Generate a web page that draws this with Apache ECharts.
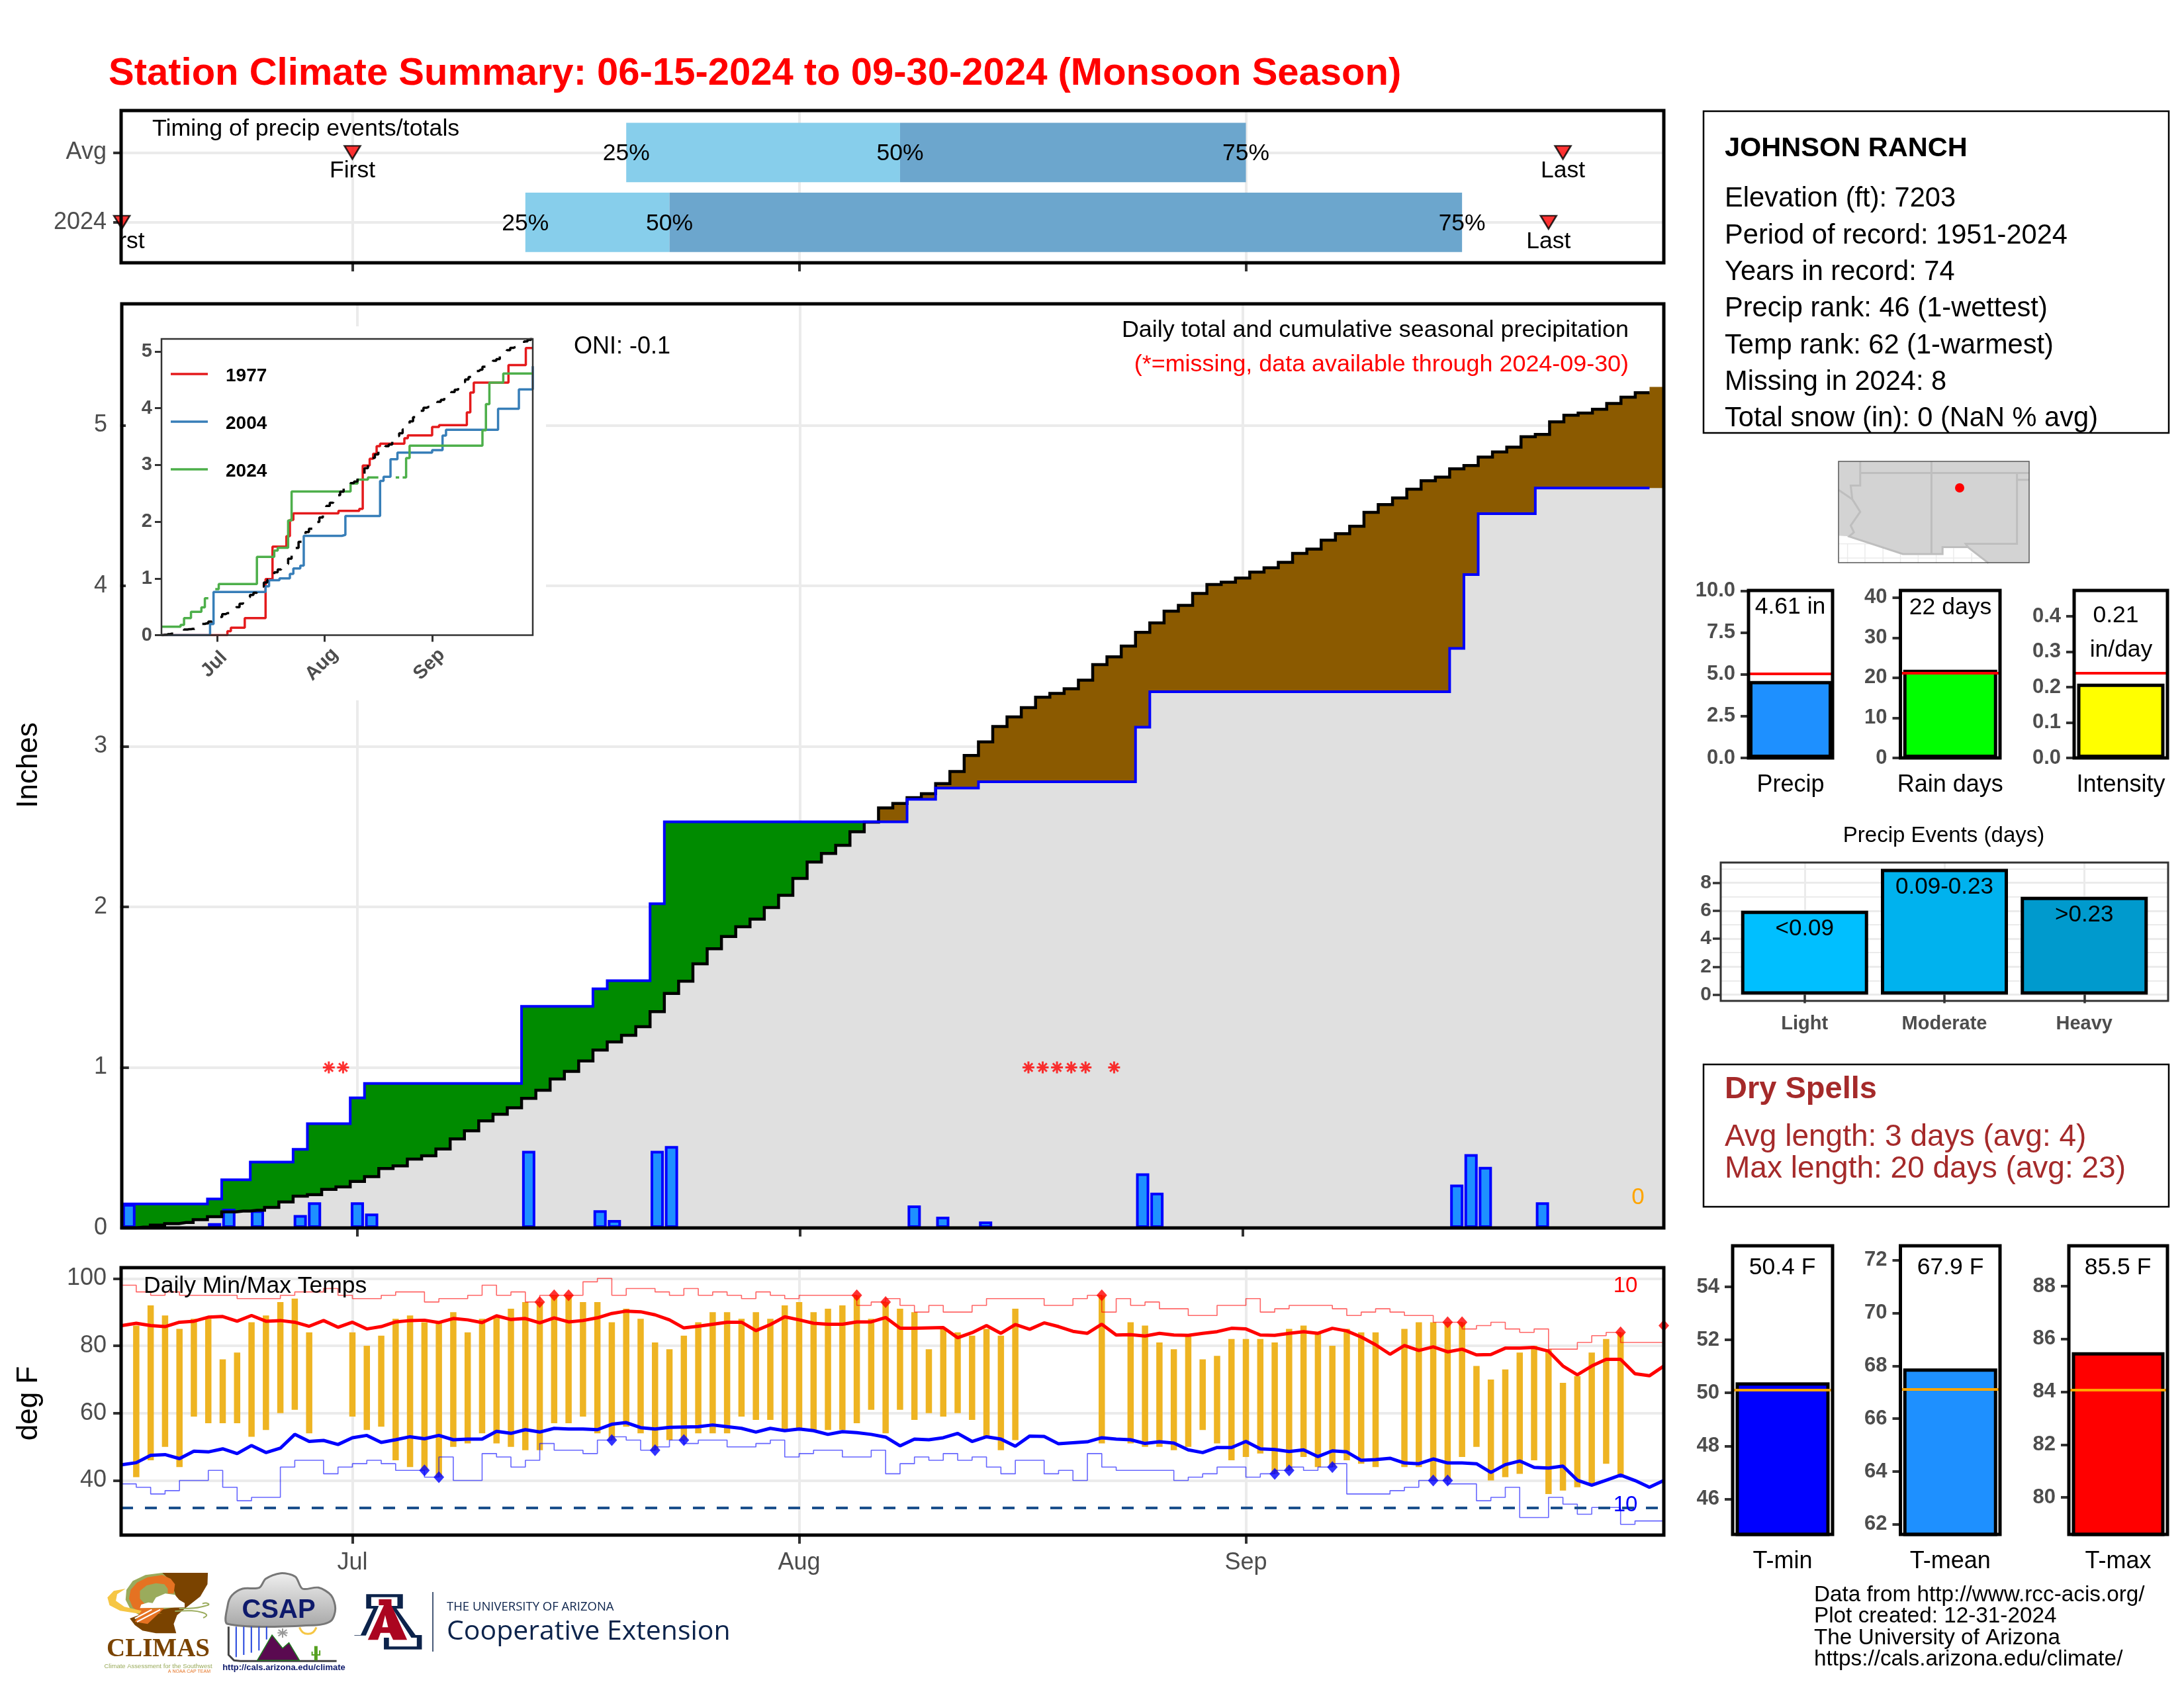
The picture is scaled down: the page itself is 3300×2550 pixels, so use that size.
<!DOCTYPE html>
<html>
<head>
<meta charset="utf-8">
<title>Station Climate Summary</title>
<script src="https://cdn.jsdelivr.net/npm/echarts@6/dist/echarts.min.js"></script>
<style>
  html, body { margin: 0; padding: 0; background: #fff; }
  #chart { width: 3300px; height: 2550px; }
</style>
</head>
<body>
<div id="chart"></div>
<script>
// Day index 0 = Jun 15, 107 = Sep 30
const monthTicks = [16, 47, 78];
const monthLabels = ["Jul", "Aug", "Sep"];

// daily precip 2024
const precipDays = [0, 6, 7, 9, 12, 13, 16, 17, 28, 33, 34, 37, 38, 55, 57, 60, 71, 72, 93, 94, 95, 99];
const precipValues = [0.15, 0.03, 0.12, 0.11, 0.08, 0.16, 0.16, 0.09, 0.48, 0.11, 0.05, 0.48, 0.51, 0.14, 0.07, 0.04, 0.34, 0.22, 0.27, 0.46, 0.38, 0.16];
const missingDays = [14, 15, 63, 64, 65, 66, 67, 69];

// average cumulative precip, one value per day
const climoCum = [
  0.00, 0.005, 0.018, 0.027, 0.034, 0.052, 0.07, 0.10, 0.105, 0.11, 0.128, 0.162, 0.198, 0.207, 0.24, 0.256, 0.29, 0.32,
  0.37, 0.387, 0.429, 0.449, 0.492, 0.555, 0.605, 0.667, 0.708, 0.748, 0.807, 0.858, 0.928, 0.975, 1.04, 1.108, 1.159, 1.20,
  1.254, 1.348, 1.461, 1.537, 1.645, 1.739, 1.816, 1.876, 1.924, 1.996, 2.072, 2.177, 2.279, 2.333, 2.384, 2.468, 2.528, 2.617,
  2.644, 2.681, 2.705, 2.768, 2.843, 2.943, 3.028, 3.124, 3.184, 3.241, 3.306, 3.33, 3.359, 3.413, 3.509, 3.558, 3.625, 3.71,
  3.769, 3.842, 3.879, 3.953, 4.008, 4.023, 4.049, 4.086, 4.113, 4.147, 4.202, 4.229, 4.285, 4.325, 4.371, 4.458, 4.506, 4.548,
  4.602, 4.655, 4.678, 4.729, 4.75, 4.802, 4.834, 4.864, 4.929, 4.944, 5.022, 5.063, 5.077, 5.10, 5.136, 5.176, 5.203, 5.239
];

// inset: comparison years, as (day of jump, new total)
const days1977 = [19, 20, 24, 30, 32, 36, 37, 38, 51, 57, 58, 60, 61, 62, 63, 70, 71, 78, 80, 88, 89, 90, 100, 105];
const cum1977 = [0.07, 0.13, 0.30, 0.99, 1.56, 1.745, 2.03, 2.146, 2.19, 2.225, 2.99, 3.11, 3.195, 3.33, 3.375, 3.47, 3.52, 3.67, 3.70, 3.925, 4.275, 4.45, 4.76, 5.06];
const days2004 = [14, 15, 30, 31, 34, 37, 38, 40, 41, 52, 53, 63, 64, 66, 68, 78, 81, 82, 97, 103, 107];
const cum2004 = [0.195, 0.76, 0.86, 0.967, 1.0, 1.08, 1.175, 1.225, 1.75, 1.767, 2.10, 2.717, 2.79, 3.10, 3.217, 3.26, 3.517, 3.62, 3.99, 4.33, 4.74];

// timing panel
const avgQuantiles = [35, 54, 78];
const obsQuantiles = [28, 38, 93];
const quantileLabels = ["25%", "50%", "75%"];
const firstDays = [16, 0];
const lastDays = [100, 99];

// daily temps (null = missing)
const tempHigh = [null, 86, 92, 89, 85, 88, 88, 76, 78, 87, 89, 93, 94, 84, null, null, 84, 80, 83, 88, 89, 87, 87, 90, 84, 88, 89, 91, 93, 93, 95, 95, 93, 93, 87, 91,
  88, 81, 79, 83, 87, 90, 90, 88, 90, 88, 92, 93, 90, 91, 92, 95, 88, 93, 91, 90, 79, 85, 84, 83, 85, 83, 91, null, null, null, null, null, 95, null, 87, 86,
  81, 79, 83, 76, 77, 82, 82, 82, 81, 85, 86, 84, 80, 85, 84, 84, null, 85, 87, 87, 87, 87, 74, 70, 73, 78, 80, 79, 69, 71, 78, 82, 84, null, null, null];
const tempLow = [null, 41, 46, 50, 44, 59, 57, 57, 57, 53, 55, 60, 61, 54, null, null, 59, 55, 56, 46, 44, 43, 41, 50, 51, 54, 51, 50, 49, 49, 57, 57, 59, 54, 52, 56,
  54, 49, 52, 52, 54, 54, 54, 59, 58, 58, 55, 55, 55, 55, 55, 57, 61, 54, 61, 58, 60, 59, 60, 58, 53, 49, 52, null, null, null, null, null, 51, null, 51, 50,
  50, 49, 50, 55, 51, 46, 47, 48, 42, 43, 47, 44, 44, 46, 45, 44, null, 44, 44, 40, 40, 47, 50, 40, 41, 42, 46, 36, 37, 38, 39, 45, 41, null, null, null];
const avgHigh = [86, 86.7, 86, 85.7, 87, 87.3, 88.5, 88.7, 87.3, 89, 87.3, 87.5, 87, 85.8, 87.5, 85.5, 87, 85, 85.7, 87.1, 87.5, 87.6, 86.9, 88.1, 87.7, 86.9, 88.9, 87.8, 88.1, 86.8, 88.3, 87.1, 87.5, 88.3, 89.6, 90.3,
  90.1, 89.2, 87.7, 85.3, 85.8, 86.4, 87, 87, 84.5, 86.3, 88.6, 87.7, 86.7, 86.4, 86.4, 87.1, 87.1, 88.4, 85.2, 85.2, 85.3, 85.4, 82.4, 83.9, 86, 83.7, 86.3, 84.9, 86.8, 85.7, 84.3, 83.7, 86.4, 83.2, 83.3, 82.9,
  83.7, 83.2, 83.1, 83.7, 84.2, 85.2, 85, 83.2, 83.1, 83.7, 84.2, 83.7, 85.2, 84.4, 82.6, 80.3, 77.5, 80.1, 78.6, 79.7, 78.2, 79, 77.3, 77.4, 79.3, 79.3, 79.5, 78.4, 74, 71.4, 74, 76, 76, 71.7, 71.1, 74];
const avgLow = [44.7, 45.3, 47.5, 47.7, 46.5, 48.7, 48.5, 49.4, 48, 50.4, 48.3, 49.6, 53.7, 51.6, 51.9, 50.7, 52.7, 53.4, 51.3, 52.1, 53, 52.4, 53.4, 52.1, 52.3, 52.3, 54.6, 54, 55.1, 54.4, 55.5, 55.3, 55.3, 55.1, 56.7, 57.2,
  55.7, 55.3, 55.8, 55.9, 56, 56.5, 56, 55.5, 54.4, 55.5, 54.8, 55.3, 54.8, 53.7, 54.5, 54.2, 53.7, 52.9, 50.3, 52.3, 52.1, 52.7, 54, 51.6, 53, 52.3, 50.2, 53.2, 53.1, 50.9, 51.2, 51.5, 52.7, 52.3, 52.1, 51,
  51.5, 51.1, 49.1, 48.3, 49.8, 49.8, 51.6, 49.4, 49.2, 48.6, 49.1, 47.1, 48.8, 48.5, 46, 46.2, 46.6, 45.2, 45, 46.4, 45.2, 45.2, 45, 42.4, 44.7, 45.8, 43.9, 43.7, 44.3, 40.1, 38.6, 40.1, 41.6, 40, 38, 40];
const recordHigh = [95, 98, 96, 95, 96, 95, 95, 95, 95, 94, 94, 94, 95, 96, 96, 97, 95, 94, 94, 95, 96, 96, 93, 94, 94, 95, 98, 95, 96, 93, 95, 95, 95, 99, 100, 95,
  97, 97, 96, 95, 97, 95, 96, 95, 94, 96, 95, 94, 95, 95, 95, 95, 92, 93, 94, 92, 90, 92, 90, 90, 92, 94, 94, 94, 94, 92, 92, 94, 95, 90, 94, 92,
  93, 91, 91, 89, 89, 92, 92, 94, 90, 91, 92, 92, 92, 91, 89, 90, 91, 90, 89, 89, 87, 87, 85, 86, 87, 85, 84, 85, 79, 79, 81, 83, 84, 81, 81, 81];
const recordLow = [35, 39, 38, 36, 37, 40, 40, 43, 38, 34, 35, 35, 44, 46, 46, 42, 44, 45, 46, 45, 43, 43, 41, 47, 40, 40, 48, 47, 44, 46, 51, 49, 49, 48, 52, 53,
  52, 49, 50, 52, 51, 52, 52, 50, 50, 51, 52, 47, 48, 49, 49, 47, 47, 49, 42, 45, 47, 46, 48, 46, 47, 44, 42, 46, 46, 42, 43, 40, 48, 44, 43, 43,
  43, 43, 40, 41, 42, 44, 44, 41, 42, 43, 44, 43, 44, 45, 36, 36, 36, 37, 38, 40, 40, 39, 39, 34, 35, 38, 29, 29, 35, 33, 30, 32, 32, 27, 28, 28];
const recordHighDays = [29, 30, 31, 51, 53, 68, 92, 93, 104, 107];
const recordHighVals = [93, 95, 95, 95, 93, 95, 87, 87, 84, 86];
const recordLowDays = [21, 22, 34, 37, 39, 80, 81, 84, 91, 92];
const recordLowVals = [43, 41, 52, 49, 52, 42, 43, 44, 40, 40];
const freezeLine = 32;

// summary bars
const precipTicks = [0, 2.5, 5, 7.5, 10];
const rainTicks = [0, 10, 20, 30, 40];
const intensityTicks = [0, 0.1, 0.2, 0.3, 0.4];
const tminTicks = [46, 48, 50, 52, 54];
const tmeanTicks = [62, 64, 66, 68, 70, 72];
const tmaxTicks = [80, 82, 84, 86, 88];
const eventNames = ["Light", "Moderate", "Heavy"];
const eventCounts = [6, 9, 7];
const eventLabels = ["<0.09", "0.09-0.23", ">0.23"];
const eventColors = ["#00BFFF", "#00B2EE", "#009ACD"];
const eventTicks = [0, 2, 4, 6, 8];
const eventMinor = [1, 3, 5, 7, 9];

const infoLines = ["Elevation (ft): 7203", "Period of record: 1951-2024", "Years in record: 74", "Precip rank: 46 (1-wettest)",
  "Temp rank: 62 (1-warmest)", "Missing in 2024: 8", "Total snow (in): 0 (NaN % avg)"];
const creditLines = ["Data from http://www.rcc-acis.org/", "Plot created: 12-31-2024", "The University of Arizona", "https://cals.arizona.edu/climate/"];

const FONT = "Liberation Sans";
const GRAY = "#4D4D4D";
const GRID = "#EBEBEB";

// cumulative 2024 from the daily values
const dailyPrecip = climoCum.map(() => 0);
precipDays.forEach((d, i) => { dailyPrecip[d] = precipValues[i]; });
let runningTotal = 0;
const obsCum = dailyPrecip.map(v => { runningTotal += v; return +runningTotal.toFixed(2); });
const minCum = obsCum.map((v, i) => Math.min(v, climoCum[i]));

const pairs = (arr) => arr.map((v, i) => [i, v]);
const zipPairs = (xs, ys) => xs.map((x, i) => [x, ys[i]]);
// hold a daily step curve out to the panel edges
const padded = (arr, first, last) => [[first, arr[0]], ...pairs(arr).filter(p => p[0] <= Math.floor(last)), [last, arr[Math.floor(last)]]];

const grids = [], xAxes = [], yAxes = [], series = [], graphics = [];

function txt(x, y, text, size, o) {
  o = o || {};
  return {
    type: "text", x: x, y: y + (o.rotation ? 0 : 2), z: 60, silent: true, rotation: o.rotation || 0,
    style: {
      text: text, fontSize: size, fontFamily: o.family || FONT, fontWeight: o.weight || "normal", fill: o.color || "#000",
      textAlign: o.align || "left", align: o.align || "left", textVerticalAlign: "middle", verticalAlign: "middle"
    }
  };
}
function frame(x, y, w, h, lw, color, z) {
  return { type: "rect", z: z || 50, silent: true, shape: { x: x, y: y, width: w, height: h }, style: { fill: "none", stroke: color || "#000", lineWidth: lw } };
}
function addGrid(left, top, width, height) {
  grids.push({ left: left, top: top, width: width, height: height });
  return grids.length - 1;
}
function customAxis(grid, type, min, max, ticks, o) {
  o = o || {};
  const label = {
    show: o.label !== false, customValues: ticks, formatter: o.fmt, color: GRAY, fontSize: o.size || 36, fontFamily: FONT,
    fontWeight: o.weight || "normal", margin: o.margin || 22, rotate: o.rotate || 0, hideOverlap: false,
    padding: o.padding || [4, 0, 0, 0]
  };
  if (o.rotate) {
    label.align = "center";
    label.verticalAlign = "middle";
  }
  return {
    type: "value", gridIndex: grid, min: min, max: max, z: o.z || 0,
    axisLine: { show: false },
    axisTick: { show: o.tick !== false, length: o.tickLen || 13, customValues: ticks, lineStyle: { color: "#333", width: o.tickWidth || 4 } },
    axisLabel: label,
    splitLine: { show: o.split !== false, lineStyle: { color: GRID, width: o.splitWidth || 4 } }
  };
}
const monthFmt = v => monthLabels[monthTicks.indexOf(v)] || "";

// --- timing panel ---
const gTop = addGrid(183, 167, 2331, 230);
xAxes.push(customAxis(gTop, "x", -0.05, 107, monthTicks, { label: false }));
yAxes.push(customAxis(gTop, "y", 0.42, 2.6, [1, 2], { fmt: v => (v === 2 ? "Avg" : "2024") }));

const timingBars = [
  [avgQuantiles[0], avgQuantiles[1], 2, "#87CEEB"], [avgQuantiles[1], avgQuantiles[2], 2, "#6CA6CD"],
  [obsQuantiles[0], obsQuantiles[1], 1, "#87CEEB"], [obsQuantiles[1], obsQuantiles[2], 1, "#6CA6CD"]
];
series.push({
  type: "custom", name: "timing bars", xAxisIndex: gTop, yAxisIndex: gTop, z: 3, silent: true,
  data: timingBars.map(b => [b[0], b[1], b[2]]), encode: { x: [0, 1], y: 2 },
  renderItem: (params, api) => {
    const p0 = api.coord([api.value(0), api.value(2) + 0.425]);
    const p1 = api.coord([api.value(1), api.value(2) - 0.425]);
    return { type: "rect", shape: { x: p0[0], y: p0[1], width: p1[0] - p0[0], height: p1[1] - p0[1] }, style: { fill: timingBars[params.dataIndex][3] } };
  }
});
series.push({
  type: "scatter", name: "first last", xAxisIndex: gTop, yAxisIndex: gTop, z: 5, silent: true, clip: true,
  symbol: "triangle", symbolRotate: 180, symbolSize: [24, 20],
  itemStyle: { color: "#FF0000", borderColor: "#000", borderWidth: 2.5 },
  data: [[firstDays[0], 2], [firstDays[1], 1], [lastDays[0], 2], [lastDays[1], 1]]
});
const timingTexts = [];
quantileLabels.forEach((t, i) => {
  timingTexts.push([avgQuantiles[i], 2, t, 2]);
  timingTexts.push([obsQuantiles[i], 1, t, 2]);
});
timingTexts.push([firstDays[0], 2, "First", 28], [firstDays[1], 1, "First", 29], [lastDays[0], 2, "Last", 28], [lastDays[1], 1, "Last", 29]);
series.push({
  type: "custom", name: "timing text", xAxisIndex: gTop, yAxisIndex: gTop, z: 6, silent: true, clip: true,
  data: timingTexts.map(t => [t[0], t[1]]), encode: { x: 0, y: 1 },
  renderItem: (params, api) => {
    const t = timingTexts[params.dataIndex];
    const p = api.coord([t[0], t[1]]);
    return {
      type: "text", x: p[0], y: p[1] + t[3],
      style: { text: t[2], fontSize: 35.5, fontFamily: FONT, fill: "#000", textAlign: "center", align: "center", textVerticalAlign: "middle", verticalAlign: "middle" }
    };
  }
});

// --- main precip panel ---
const gMain = addGrid(184, 459, 2330, 1396);
xAxes.push(customAxis(gMain, "x", -0.5, 107.5, monthTicks, { label: false }));
yAxes.push(customAxis(gMain, "y", 0, 5.757, [0, 1, 2, 3, 4, 5], {}));
const fillLayer = (name, arr, color) => ({
  type: "line", name: name, xAxisIndex: gMain, yAxisIndex: gMain, step: "middle", showSymbol: false, silent: true, z: 2,
  lineStyle: { width: 0 }, areaStyle: { color: color, opacity: 1, origin: "start" }, data: padded(arr, -0.5, 107.5)
});
series.push(fillLayer("above normal", obsCum, "#008B00"));
series.push(fillLayer("below normal", climoCum, "#8B5A00"));
series.push(fillLayer("common", minCum, "#E0E0E0"));
series.push({
  type: "bar", name: "daily precip", xAxisIndex: gMain, yAxisIndex: gMain, z: 3, silent: true, barWidth: 20,
  itemStyle: { color: "#1E90FF", borderColor: "#0000FF", borderWidth: 4 }, data: zipPairs(precipDays, precipValues)
});
series.push({
  type: "line", name: "climo line", xAxisIndex: gMain, yAxisIndex: gMain, step: "middle", showSymbol: false, silent: true, z: 4,
  lineStyle: { color: "#000", width: 4.5, join: "miter" }, data: padded(climoCum, -0.5, 106.5)
});
series.push({
  type: "line", name: "obs line", xAxisIndex: gMain, yAxisIndex: gMain, step: "middle", showSymbol: false, silent: true, z: 5,
  lineStyle: { color: "#0000FF", width: 4, join: "miter" }, data: padded(obsCum, -0.5, 106.5)
});
series.push({
  type: "scatter", name: "missing", xAxisIndex: gMain, yAxisIndex: gMain, z: 6, silent: true, symbolSize: 18,
  symbol: "path://M0 10L20 10M10 0L10 20M3 3L17 17M3 17L17 3",
  itemStyle: { color: "none", borderColor: "#FF0000", borderWidth: 3 }, data: missingDays.map(d => [d, 1])
});

// --- temps panel ---
const gTemp = addGrid(183, 1915, 2331, 404);
xAxes.push(customAxis(gTemp, "x", -0.05, 107, monthTicks, { fmt: monthFmt, margin: 20 }));
yAxes.push(customAxis(gTemp, "y", 23.8, 103.2, [40, 60, 80, 100], {}));
const tempBars = [];
tempHigh.forEach((v, i) => { if (v !== null) tempBars.push([i, tempLow[i], v]); });
series.push({
  type: "custom", name: "daily range", xAxisIndex: gTemp, yAxisIndex: gTemp, z: 3, silent: true, clip: true,
  data: tempBars, encode: { x: 0, y: [1, 2] },
  renderItem: (params, api) => {
    const lo = api.coord([api.value(0), api.value(1)]);
    const hi = api.coord([api.value(0), api.value(2)]);
    return { type: "rect", shape: { x: lo[0] - 4.75, y: hi[1], width: 9.5, height: lo[1] - hi[1] }, style: { fill: "#EEB422" } };
  }
});
const stepLine = (name, arr, color) => ({
  type: "line", name: name, xAxisIndex: gTemp, yAxisIndex: gTemp, step: "start", showSymbol: false, silent: true, z: 3,
  lineStyle: { color: color, width: 1.6, opacity: 0.6 }, data: pairs(arr)
});
series.push(stepLine("record high", recordHigh, "#FF0000"));
series.push(stepLine("record low", recordLow, "#0000FF"));
const avgLine = (name, arr, color) => ({
  type: "line", name: name, xAxisIndex: gTemp, yAxisIndex: gTemp, showSymbol: false, silent: true, z: 4,
  lineStyle: { color: color, width: 5 }, data: pairs(arr)
});
series.push(avgLine("avg high", avgHigh, "#FF0000"));
series.push(avgLine("avg low", avgLow, "#0000FF"));
series.push({
  type: "line", name: "freeze", xAxisIndex: gTemp, yAxisIndex: gTemp, showSymbol: false, silent: true, z: 4, data: [],
  markLine: { silent: true, symbol: "none", animation: false, label: { show: false }, lineStyle: { color: "#1B4F8C", width: 4, type: [18, 18] }, data: [{ yAxis: freezeLine }] }
});
const recordMarks = (name, xs, ys, color) => ({
  type: "scatter", name: name, xAxisIndex: gTemp, yAxisIndex: gTemp, z: 5, silent: true, symbol: "diamond", symbolSize: [16, 18],
  itemStyle: { color: color }, data: zipPairs(xs, ys)
});
series.push(recordMarks("new high", recordHighDays, recordHighVals, "#FF0000"));
series.push(recordMarks("new low", recordLowDays, recordLowVals, "#0000FF"));

// --- inset ---
const gInset = addGrid(244, 512, 561, 447.5);
xAxes.push(customAxis(gInset, "x", 0, 107, monthTicks, { fmt: monthFmt, split: false, size: 29, weight: "bold", rotate: 45, margin: 40, padding: [0, 12, 0, 0], tickLen: 10, tickWidth: 3, z: 3 }));
yAxes.push(customAxis(gInset, "y", 0, 5.22, [0, 1, 2, 3, 4, 5], { split: false, size: 29, weight: "bold", margin: 14, tickLen: 10, tickWidth: 3, z: 3 }));
const insetStep = (name, xs, ys, color) => ({
  type: "line", name: name, xAxisIndex: gInset, yAxisIndex: gInset, step: "end", showSymbol: false, silent: true, z: 8,
  lineStyle: { color: color, width: 3.5 }, itemStyle: { color: color }, data: [[0, 0], ...zipPairs(xs, ys), [107, ys[ys.length - 1]]]
});
series.push(insetStep("1977", days1977, cum1977, "#E41A1C"));
series.push(insetStep("2004", days2004, cum2004, "#377EB8"));
series.push({
  type: "line", name: "2024", xAxisIndex: gInset, yAxisIndex: gInset, step: "middle", showSymbol: false, silent: true, z: 8,
  lineStyle: { color: "#4DAF4A", width: 3.5 }, itemStyle: { color: "#4DAF4A" }, connectNulls: false,
  data: obsCum.map((v, i) => [i, missingDays.includes(i) ? null : v])
});
series.push({
  type: "line", name: "avg inset", xAxisIndex: gInset, yAxisIndex: gInset, step: "middle", showSymbol: false, silent: true, z: 9,
  lineStyle: { color: "#000", width: 3.5, type: [18, 18] }, data: pairs(climoCum)
});

// --- small summary bars ---
function smallBar(left, width, top, height, yMin, yMax, ticks, fmt, name, value, color, refValue, refColor, barWidth) {
  const g = addGrid(left, top, width, height);
  xAxes.push({
    type: "category", gridIndex: g, data: [name], axisLine: { show: false }, axisTick: { show: false }, splitLine: { show: false },
    axisLabel: { color: "#000", fontSize: 36, fontFamily: FONT, margin: 23, interval: 0 }
  });
  yAxes.push(customAxis(g, "y", yMin, yMax, ticks, { fmt: fmt, split: false, size: 31, weight: "bold", margin: 20, tickLen: 12 }));
  series.push({
    type: "bar", name: name, xAxisIndex: g, yAxisIndex: g, z: 3, silent: true, barWidth: barWidth,
    itemStyle: { color: color, borderColor: "#000", borderWidth: 5 }, data: [value],
    markLine: { silent: true, symbol: "none", animation: false, z: 6, label: { show: false }, lineStyle: { color: refColor, width: 4, type: "solid" }, data: [{ yAxis: refValue }] }
  });
  graphics.push(frame(left, top, width, height, 5));
}
smallBar(2642, 127, 892, 253, 0, 10.03, precipTicks, v => v.toFixed(1), "Precip", 4.61, "#1E90FF", 5.05, "#FF0000", 125);
smallBar(2871.5, 150.5, 892, 253, 0, 41.8, rainTicks, v => String(v), "Rain days", 22, "#00FF00", 21.2, "#FF0000", 142);
smallBar(3134, 141, 892, 253, 0, 0.473, intensityTicks, v => v.toFixed(1), "Intensity", 0.21, "#FFFF00", 0.2408, "#FF0000", 132);
smallBar(2618, 151, 1882, 436, 44.66, 55.55, tminTicks, v => String(v), "T-min", 50.4, "#0000FF", 50.1, "#FFA500", 142);
smallBar(2871.5, 150.5, 1882, 436, 61.62, 72.54, tmeanTicks, v => String(v), "T-mean", 67.9, "#1E90FF", 67.1, "#FFA500", 142);
smallBar(3126, 149, 1882, 436, 78.6, 89.53, tmaxTicks, v => String(v), "T-max", 85.5, "#FF0000", 84.08, "#FFA500", 140);

// --- precip events ---
const gEvents = addGrid(2600, 1303, 676, 209);
xAxes.push(customAxis(gEvents, "x", 0.4, 3.6, [1, 2, 3], { fmt: v => eventNames[v - 1], size: 29, weight: "bold", margin: 16, tickLen: 13, tickWidth: 3.5, splitWidth: 3 }));
yAxes.push(customAxis(gEvents, "y", -0.45, 9.45, eventTicks, { size: 30, weight: "bold", margin: 14, tickLen: 12, tickWidth: 3.5, splitWidth: 3 }));
series.push({
  type: "line", name: "event minor", xAxisIndex: gEvents, yAxisIndex: gEvents, data: [], z: 1, silent: true,
  markLine: { silent: true, symbol: "none", animation: false, z: 1, label: { show: false }, lineStyle: { color: GRID, width: 1.8, type: "solid" }, data: eventMinor.map(v => ({ yAxis: v })) }
});
series.push({
  type: "bar", name: "events", xAxisIndex: gEvents, yAxisIndex: gEvents, z: 3, silent: true, barWidth: 192,
  data: eventCounts.map((v, i) => ({ value: [i + 1, v], itemStyle: { color: eventColors[i], borderColor: "#000", borderWidth: 5 } })),
  label: { show: true, position: "insideTop", distance: 10, color: "#000", fontSize: 35, fontFamily: FONT, formatter: p => eventLabels[p.dataIndex] }
});
graphics.push(frame(2600, 1303, 676, 209, 3, "#333"));

// --- page text and boxes ---
graphics.push(
  txt(164, 110, "Station Climate Summary: 06-15-2024 to 09-30-2024 (Monsoon Season)", 58, { weight: "bold", color: "#FF0000" }),
  { type: "rect", z: 1, silent: true, shape: { x: 190, y: 493, width: 635, height: 565 }, style: { fill: "#fff" } },
  frame(183, 167, 2331, 230, 5),
  frame(184, 459, 2330, 1396, 5),
  frame(183, 1915, 2331, 404, 5),
  frame(244, 512, 561, 447.5, 2.5, "#333", 10),
  txt(230, 193, "Timing of precip events/totals", 35.8),
  txt(2461, 497, "Daily total and cumulative seasonal precipitation", 35.9, { align: "right" }),
  txt(2461, 549, "(*=missing, data available through 2024-09-30)", 35.9, { align: "right", color: "#FF0000" }),
  txt(867, 522, "ONI: -0.1", 36),
  txt(2475, 1807, "0", 35, { align: "center", color: "#FFA500" }),
  txt(217, 1941, "Daily Min/Max Temps", 35.5),
  txt(2456, 1941, "10", 33, { align: "center", color: "#FF0000" }),
  txt(2456, 2272, "10", 33, { align: "center", color: "#0000FF" }),
  txt(44, 1156, "Inches", 44, { align: "center", rotation: Math.PI / 2 }),
  txt(44, 2120, "deg F", 44, { align: "center", rotation: Math.PI / 2 }),
  // inset legend
  { type: "line", z: 60, silent: true, shape: { x1: 258, y1: 565, x2: 314, y2: 565 }, style: { stroke: "#E41A1C", lineWidth: 3.5 } },
  { type: "line", z: 60, silent: true, shape: { x1: 258, y1: 637, x2: 314, y2: 637 }, style: { stroke: "#377EB8", lineWidth: 3.5 } },
  { type: "line", z: 60, silent: true, shape: { x1: 258, y1: 709, x2: 314, y2: 709 }, style: { stroke: "#4DAF4A", lineWidth: 3.5 } },
  txt(341, 566, "1977", 28, { weight: "bold" }), txt(341, 638, "2004", 28, { weight: "bold" }), txt(341, 710, "2024", 28, { weight: "bold" }),
  // station box
  frame(2574, 168, 703, 486, 2.5),
  txt(2606, 223, "JOHNSON RANCH", 41.5, { weight: "bold" }),
  ...infoLines.map((t, i) => txt(2606, 299 + i * 55.3, t, 41.6)),
  // small bar texts
  txt(2705, 915, "4.61 in", 35.5, { align: "center" }),
  txt(2947, 916, "22 days", 35.5, { align: "center" }),
  txt(3197, 928, "0.21", 35.5, { align: "center" }),
  txt(3205, 980, "in/day", 35.5, { align: "center" }),
  txt(2693, 1913, "50.4 F", 35.5, { align: "center" }),
  txt(2947, 1913, "67.9 F", 35.5, { align: "center" }),
  txt(3200, 1913, "85.5 F", 35.5, { align: "center" }),
  txt(2937, 1261, "Precip Events (days)", 33, { align: "center" }),
  // dry spells box
  frame(2574, 1608, 703, 215, 2.5),
  txt(2606, 1644, "Dry Spells", 47, { weight: "bold", color: "#A52A2A" }),
  txt(2606, 1716, "Avg length: 3 days (avg: 4)", 46, { color: "#A52A2A" }),
  txt(2606, 1764, "Max length: 20 days (avg: 23)", 46, { color: "#A52A2A" }),
  ...creditLines.map((t, i) => txt(2741, 2408 + i * 32.3, t, 33.3))
);

// --- locator map, points measured in map crop units ---
const mp = pts => pts.map(p => [2550 + p[0] / 2.09, 680 + p[1] / 2.9]);
const mapLine = (pts, color, lw) => ({ type: "polyline", z: 20, silent: true, shape: { points: mp(pts) }, style: { stroke: color, lineWidth: lw, fill: "none" } });
[[505, 410, 505, 495], [560, 410, 560, 495], [617, 410, 617, 495], [672, 440, 672, 495], [728, 460, 728, 495], [785, 460, 785, 495], [840, 430, 840, 495], [897, 450, 897, 495]]
  .forEach(l => graphics.push(mapLine([[l[0], l[1]], [l[2], l[3]]], GRID, 1.5)));
graphics.push(
  mapLine([[477, 410], [590, 410]], GRID, 1.5),
  mapLine([[477, 473], [930, 473]], GRID, 1.5),
  { type: "polygon", z: 21, silent: true, shape: { points: mp([[477, 50], [1078, 50], [1078, 495], [950, 495], [885, 425], [805, 425], [805, 455], [680, 455], [510, 378], [477, 375]]) }, style: { fill: "#D3D3D3" } },
  { type: "polyline", z: 22, silent: true, shape: { points: mp([[545, 50], [545, 155], [515, 155], [520, 215], [545, 270], [515, 330], [525, 360], [510, 378], [680, 455], [805, 455], [805, 425], [885, 425], [950, 495]]) }, style: { stroke: "#BEBEBE", lineWidth: 3, fill: "none" } },
  { type: "polyline", z: 22, silent: true, shape: { points: mp([[477, 175], [520, 215]]) }, style: { stroke: "#BEBEBE", lineWidth: 3, fill: "none" } },
  { type: "polyline", z: 22, silent: true, shape: { points: mp([[545, 100], [1078, 100]]) }, style: { stroke: "#BEBEBE", lineWidth: 3, fill: "none" } },
  { type: "polyline", z: 22, silent: true, shape: { points: mp([[770, 50], [770, 455]]) }, style: { stroke: "#BEBEBE", lineWidth: 3, fill: "none" } },
  { type: "polyline", z: 22, silent: true, shape: { points: mp([[1040, 100], [1040, 410], [878, 410], [885, 425]]) }, style: { stroke: "#BEBEBE", lineWidth: 3, fill: "none" } },
  { type: "polyline", z: 22, silent: true, shape: { points: mp([[1040, 130], [1078, 130]]) }, style: { stroke: "#BEBEBE", lineWidth: 3, fill: "none" } },
  { type: "circle", z: 23, silent: true, shape: { cx: 2961, cy: 737, r: 7 }, style: { fill: "#FF0000" } },
  frame(2778, 697, 288, 153, 1.5, "#555", 24)
);

// --- logos, points measured in logo crop units ---
const lg = pts => pts.map(p => [140 + p[0] / 1.568, 2350 + p[1] / 3]);
const lgPoly = (pts, fill) => ({ type: "polygon", z: 30, silent: true, shape: { points: lg(pts) }, style: { fill: fill } });
const lgLine = (pts, color, lw, smooth) => ({ type: "polyline", z: 31, silent: true, shape: { points: lg(pts), smooth: smooth || 0 }, style: { stroke: color, lineWidth: lw, fill: "none" } });
graphics.push(
  lgPoly([[165, 78], [273, 78], [272, 130], [255, 185], [222, 235], [200, 270], [192, 310], [198, 352], [150, 352], [118, 340], [100, 315], [88, 285], [150, 240]], "#7A4300"),
  lgPoly([[165, 78], [125, 88], [95, 115], [80, 155], [78, 200], [90, 245], [115, 275], [150, 250], [205, 230], [195, 170], [185, 115]], "#9AAB5C"),
  lgPoly([[165, 88], [130, 98], [105, 122], [90, 155], [86, 195], [95, 235], [115, 262], [140, 240], [125, 222], [112, 195], [112, 160], [128, 135], [150, 125], [170, 130], [178, 150], [178, 172], [192, 172], [195, 130], [185, 105]], "#E57222"),
  lgPoly([[112, 238], [115, 222], [132, 212], [142, 215], [150, 190], [172, 172], [195, 178], [205, 200], [218, 215], [218, 235]], "#FFFFFF"),
  lgPoly([[78, 150], [50, 160], [35, 190], [40, 225], [65, 250], [105, 262], [165, 262], [115, 250], [75, 232], [55, 205], [58, 175]], "#F6C644"),
  lgPoly([[120, 240], [170, 238], [130, 310], [100, 300], [110, 265]], "#E57222"),
  lgLine([[160, 245], [105, 300]], "#FFFFFF", 2),
  lgLine([[140, 245], [100, 285]], "#FFFFFF", 2),
  lgLine([[205, 240], [240, 238], [262, 230], [275, 222], [270, 215], [260, 218]], "#9AAB5C", 2, 0.4),
  lgLine([[195, 252], [235, 250], [260, 258], [270, 270], [262, 282]], "#9AAB5C", 2, 0.4),
  txt(239, 2490, "CLIMAS", 39, { family: "Liberation Serif", color: "#7A4300", align: "center", weight: "bold" }),
  txt(239, 2515, "Climate Assessment for the Southwest", 9.5, { color: "#9AAB5C", align: "center" }),
  txt(318, 2523, "A NOAA CAP TEAM", 7, { color: "#E57222", align: "right" }),
  {
    type: "polygon", z: 30, silent: true,
    shape: { points: lg([[320, 310], [320, 225], [330, 180], [355, 150], [395, 145], [410, 105], [445, 80], [480, 95], [497, 150], [535, 145], [565, 180], [575, 240], [565, 295], [530, 315]]), smooth: 0.3 },
    style: { fill: new echarts.graphic.LinearGradient(0, 0, 0, 1, [{ offset: 0, color: "#F0F0F0" }, { offset: 1, color: "#A6A6A6" }]), stroke: "#777", lineWidth: 3 }
  },
  txt(421, 2431, "CSAP", 40, { weight: "bold", color: "#0E1A6B", align: "center" }),
  lgLine([[322, 322], [322, 450], [335, 475], [350, 478], [578, 478]], "#444", 3),
  ...[[340, 460], [358, 450], [376, 440], [394, 430], [412, 380]].map(l => lgLine([[l[0], 322], [l[0], l[1]]], "#2244DD", 2)),
  { type: "polygon", z: 32, silent: true, shape: { points: lg([[390, 475], [425, 360], [450, 420], [465, 395], [490, 475]]) }, style: { fill: "#5A0A50", stroke: "#1E7A1E", lineWidth: 1.5 } },
  lgLine([[438, 350], [462, 350]], "#999", 2), lgLine([[450, 330], [450, 372]], "#999", 2), lgLine([[440, 336], [460, 364]], "#999", 2), lgLine([[440, 364], [460, 336]], "#999", 2),
  lgLine([[490, 325], [498, 348], [510, 355], [522, 348], [530, 325]], "#F6C644", 3, 0.4),
  lgLine([[529, 475], [529, 410]], "#55A020", 5),
  lgLine([[520, 435], [520, 450], [538, 450], [538, 430]], "#55A020", 2),
  txt(429, 2517, "http://cals.arizona.edu/climate", 13, { weight: "bold", color: "#0E1A6B", align: "center" }),
  lgPoly([[648, 175], [735, 175], [735, 240], [720, 240], [765, 360], [780, 360], [780, 425], [690, 425], [690, 362], [620, 362], [620, 425], [690, 425], [620, 425], [620, 360], [635, 360], [665, 240], [648, 240]], "#0C234B"),
  lgPoly([[660, 188], [722, 188], [722, 228], [706, 228], [755, 372], [768, 372], [768, 412], [702, 412], [702, 372], [688, 372], [684, 380], [684, 412], [632, 412], [632, 372], [645, 372], [678, 228], [660, 228]], "#FFFFFF"),
  lgPoly([[678, 198], [708, 198], [708, 225], [745, 382], [712, 382], [704, 350], [682, 350], [676, 382], [652, 382], [690, 225], [678, 225]], "#AB0520"),
  lgPoly([[693, 270], [700, 325], [686, 325]], "#FFFFFF"),
  lgLine([[806, 165], [806, 435]], "#0C234B", 1.5),
  txt(675, 2426, "THE UNIVERSITY OF ARIZONA", 18.5, { family: "Open Sans", color: "#0C234B" }),
  txt(675, 2463, "Cooperative Extension", 41, { family: "Open Sans", color: "#0C234B" })
);

const chart = echarts.init(document.getElementById("chart"));
chart.setOption({
  animation: false,
  backgroundColor: "#fff",
  textStyle: { fontFamily: FONT },
  grid: grids,
  xAxis: xAxes,
  yAxis: yAxes,
  series: series,
  graphic: { elements: graphics }
});
</script>
</body>
</html>
